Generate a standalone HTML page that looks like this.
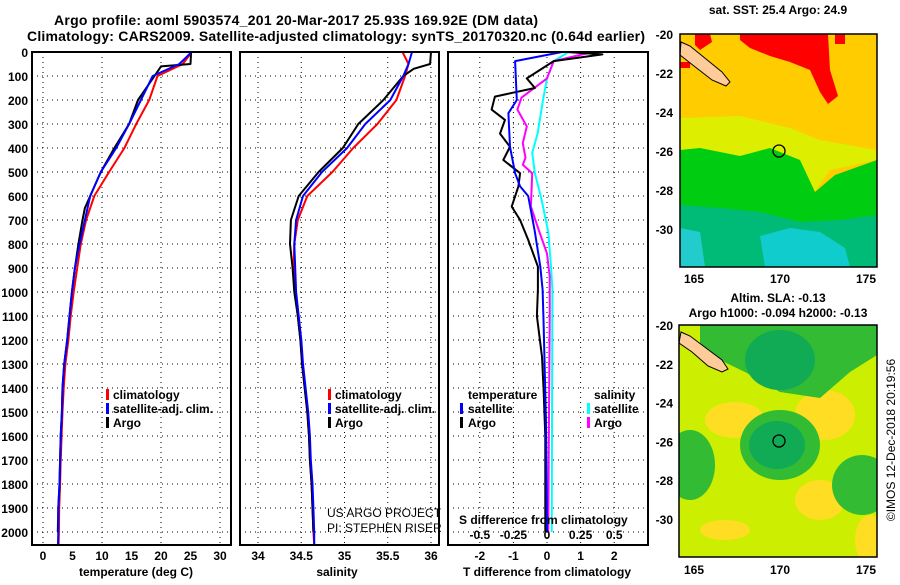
<!DOCTYPE html>
<html><head><meta charset="utf-8"><style>
body{margin:0;background:#fff;}
svg text{font-family:"Liberation Sans",sans-serif;font-weight:bold;font-size:12px;fill:#000;}
</style></head><body>
<svg id="s" width="900" height="580" viewBox="0 0 900 580" xmlns="http://www.w3.org/2000/svg">
<rect width="900" height="580" fill="#fff"/>
<text x="296" y="25" text-anchor="middle" style="font-size:14px" textLength="484">Argo profile: aoml 5903574_201 20-Mar-2017 25.93S 169.92E (DM data)</text>
<text x="336" y="41" text-anchor="middle" style="font-size:14px" textLength="618">Climatology: CARS2009. Satellite-adjusted climatology: synTS_20170320.nc (0.64d earlier)</text>
<g id="grid"></g>
<g id="lines"></g>
<g id="frames" fill="none" stroke="#000" stroke-width="2">
<rect x="32" y="52" width="199" height="493"/>
<rect x="240" y="52" width="199" height="493"/>
<rect x="448" y="52" width="200" height="493"/>
</g>
<g id="labels"></g>
<text x="136" y="576" text-anchor="middle">temperature (deg C)</text>
<text x="337" y="576" text-anchor="middle">salinity</text>
<text x="547" y="576" text-anchor="middle">T difference from climatology</text>
<text x="459" y="524">S difference from climatology</text>
<g>
<rect x="106" y="389" width="3" height="11" fill="#f00"/><text x="113" y="399">climatology</text>
<rect x="106" y="403" width="3" height="11" fill="#00f"/><text x="113" y="413">satellite-adj. clim.</text>
<rect x="106" y="417" width="3" height="11" fill="#000"/><text x="113" y="427">Argo</text>
</g>
<g>
<rect x="328" y="389" width="3" height="11" fill="#f00"/><text x="335" y="399">climatology</text>
<rect x="328" y="403" width="3" height="11" fill="#00f"/><text x="335" y="413">satellite-adj. clim.</text>
<rect x="328" y="417" width="3" height="11" fill="#000"/><text x="335" y="427">Argo</text>
</g>
<g>
<text x="468" y="399">temperature</text>
<rect x="460" y="403" width="3" height="11" fill="#00f"/><text x="468" y="413">satellite</text>
<rect x="460" y="417" width="3" height="11" fill="#000"/><text x="468" y="427">Argo</text>
<text x="594" y="399">salinity</text>
<rect x="587" y="403" width="3" height="11" fill="#0ff"/><text x="594" y="413">satellite</text>
<rect x="587" y="417" width="3" height="11" fill="#f0f"/><text x="594" y="427">Argo</text>
</g>
<text x="327" y="517" style="font-weight:normal">US ARGO PROJECT</text>
<text x="327" y="532" style="font-weight:normal">PI: STEPHEN RISER</text>

<!-- SST map -->
<text x="778" y="14" text-anchor="middle">sat. SST: 25.4 Argo: 24.9</text>
<g>
<clipPath id="c1"><rect x="680" y="34" width="197" height="233"/></clipPath>
<g clip-path="url(#c1)">
<rect x="680" y="34" width="197" height="233" fill="#ffcc00"/>
<path d="M680,118 L740,116 L790,128 L820,140 L877,150 L877,160 L830,170 L812,196 L790,180 L760,168 L720,170 L680,175 Z" fill="#ddee00"/>
<path d="M680,150 L700,148 L740,156 L770,148 L800,160 L815,192 L835,175 L877,160 L877,267 L680,267 Z" fill="#00cc11"/>
<path d="M680,205 L720,208 L760,212 L800,222 L840,220 L877,215 L877,267 L680,267 Z" fill="#00bb77"/>
<path d="M680,228 L700,232 L705,267 L680,267 Z" fill="#22cccc"/>
<path d="M760,236 L790,228 L820,232 L845,248 L850,267 L765,267 Z" fill="#11cccc"/>
<path d="M695,34 L710,34 L712,42 L700,50 L695,45 Z" fill="#f00"/>
<path d="M740,34 L828,34 L830,70 L838,96 L828,104 L820,92 L810,70 L790,62 L770,56 L750,48 L740,40 Z" fill="#f00"/>
<path d="M835,34 L845,34 L845,44 L835,44 Z" fill="#f00"/>
<path d="M680,62 L690,62 L690,68 L680,68 Z" fill="#f00"/>
<path d="M681,42 L690,46 L722,72 L730,82 L726,86 L712,80 L694,66 L680,55 Z" fill="#ffcc99" stroke="#000" stroke-width="1"/>
<circle cx="779" cy="151" r="6" fill="none" stroke="#000" stroke-width="1.3"/>
</g>
<rect x="680" y="34" width="197" height="233" fill="none" stroke="#000" stroke-width="1.5"/>
</g>
<!-- SLA map -->
<text x="778" y="302" text-anchor="middle">Altim. SLA: -0.13</text>
<text x="778" y="317" text-anchor="middle">Argo h1000: -0.094 h2000: -0.13</text>
<g>
<clipPath id="c2"><rect x="679" y="325" width="198" height="232"/></clipPath>
<g clip-path="url(#c2)">
<rect x="679" y="325" width="198" height="232" fill="#ccee00"/>
<ellipse cx="735" cy="420" rx="30" ry="18" fill="#ffdd22"/>
<ellipse cx="825" cy="415" rx="30" ry="25" fill="#ffdd22"/>
<ellipse cx="820" cy="500" rx="25" ry="20" fill="#ffdd22"/>
<ellipse cx="870" cy="540" rx="15" ry="25" fill="#ffdd22"/>
<ellipse cx="725" cy="530" rx="25" ry="10" fill="#ffdd22"/>
<path d="M700,325 L877,325 L877,355 L850,372 L820,398 L780,392 L745,372 L720,360 L700,345 Z" fill="#33bb33"/>
<ellipse cx="780" cy="360" rx="35" ry="30" fill="#11aa55"/>
<ellipse cx="780" cy="445" rx="40" ry="35" fill="#33bb33"/>
<ellipse cx="777" cy="445" rx="28" ry="24" fill="#11aa55"/>
<ellipse cx="690" cy="465" rx="25" ry="35" fill="#33bb33"/>
<ellipse cx="862" cy="485" rx="30" ry="30" fill="#33bb33" transform="rotate(-30 862 485)"/>
<path d="M681,332 L690,336 L722,360 L728,369 L722,372 L708,366 L692,352 L679,343 Z" fill="#ffcc99" stroke="#000" stroke-width="1"/>
<circle cx="779" cy="441" r="6" fill="none" stroke="#000" stroke-width="1.3"/>
</g>
<rect x="679" y="325" width="198" height="232" fill="none" stroke="#000" stroke-width="1.5"/>
</g>
<text transform="translate(895,440) rotate(-90)" text-anchor="middle" style="font-weight:normal;font-size:12px">©IMOS 12-Dec-2018 20:19:56</text>
<g id="maplabels"></g>
</svg>
<script>
// profile depths (dbar)
const depths = [0,50,100,200,300,400,500,600,700,800,900,1000,1100,1200,1300,1400,1500,1600,1700,1800,1900,2000,2050];
const tempClim = [25.2,23.7,19.4,18.0,15.8,13.8,11.2,8.7,7.3,6.4,5.8,5.2,4.7,4.3,3.8,3.5,3.3,3.15,3.0,2.9,2.75,2.7,2.65];
const tempSat  = [25.2,23.1,18.6,16.6,14.6,12.4,9.8,8.0,7.1,6.2,5.4,4.9,4.5,4.1,3.6,3.3,3.2,3.0,2.9,2.8,2.6,2.6,2.55];
const argoTempDepths = [0,50,60,100,200,300,400,500,600,650,700,800,900,1000,1100,1200,1300,1400,1500,1600,1700,1800,1900,2000];
const tempArgo = [25.1,25.0,20.0,18.9,16.1,14.6,12.1,9.8,8.0,7.1,6.7,6.0,5.4,4.9,4.5,4.1,3.6,3.3,3.2,3.0,2.9,2.8,2.6,2.5];
const salClim = [35.67,35.74,35.70,35.60,35.38,35.10,34.86,34.57,34.46,34.42,34.41,34.43,34.46,34.49,34.51,34.54,34.57,34.59,34.60,34.62,34.63,34.64,34.65];
const salSat  = [35.78,35.74,35.68,35.53,35.24,35.03,34.74,34.52,34.44,34.42,34.43,34.44,34.47,34.50,34.52,34.55,34.58,34.60,34.61,34.63,34.64,34.65,34.65];
const argoSalDepths = [0,50,70,100,200,300,400,500,600,700,800,900,1000,1100,1200,1300,1400,1500,1600,1700,1800,1900,2000];
const salArgo = [36.0,35.99,35.8,35.68,35.45,35.16,34.98,34.70,34.47,34.38,34.37,34.40,34.42,34.46,34.49,34.51,34.54,34.57,34.59,34.60,34.62,34.63,34.64];
// difference panel
const diffTDepths = [0,10,38,110,150,186,240,283,340,395,450,505,560,644,700,783,894,990,1100,1270,1408,1600,1800,2000];
const tDiffArgo = [0.59,1.65,0.2,-0.6,-0.36,-1.55,-1.65,-1.25,-1.4,-1.1,-1.3,-0.8,-0.85,-1.05,-0.8,-0.56,-0.27,-0.27,-0.3,-0.15,-0.1,-0.05,-0.05,-0.05];
const diffSatDepths = [0,38,200,255,395,505,560,600,750,894,990,1130,1540,2000];
const tDiffSat = [0.45,-0.95,-0.9,-1.15,-1.1,-0.95,-0.8,-0.56,-0.36,-0.2,-0.13,-0.1,-0.03,0];
const diffSDepths = [0,38,110,190,240,310,380,440,470,505,644,728,840,936,1100,1500,2000];
const sDiffArgo = [0.34,0.05,0,-0.19,-0.22,-0.15,-0.18,-0.16,-0.18,-0.11,-0.12,-0.07,0,0.02,0.02,0.015,0.01];
const diffSSatDepths = [0,38,110,200,340,420,505,616,750,894,990,2000];
const sDiffSat = [0.16,0.05,0,-0.03,-0.07,-0.11,-0.09,-0.04,0.01,0.03,0.04,0.035];
// tick labels
const pressureTicks = [0,100,200,300,400,500,600,700,800,900,1000,1100,1200,1300,1400,1500,1600,1700,1800,1900,2000];
const tempTicks = [0,5,10,15,20,25,30];
const salTicks = [34,34.5,35,35.5,36];
const tDiffTicks = [-2,-1,0,1,2];
const sDiffTicks = [-0.5,-0.25,0,0.25,0.5];
const latTicks = [-20,-22,-24,-26,-28,-30];
const lonTicks = [165,170,175];

const NS='http://www.w3.org/2000/svg';
const yP = p => 52 + p*0.24;
const xT = t => 43 + t*5.9;
const xS = s => 258 + (s-34)*86.5;
const xTD = d => 547 + d*33.6;
const xSD = d => 547 + d*134.4;
const yLatTop = l => 34 + (-20 - l)*19.5;
const yLatBot = l => 325 + (-20 - l)*19.4;
const xLon = l => 780 + (l-170)*17.2;

function el(tag, attrs, parent){const e=document.createElementNS(NS,tag);for(const k in attrs)e.setAttribute(k,attrs[k]);parent.appendChild(e);return e;}
const grid=document.getElementById('grid'), lines=document.getElementById('lines'), labels=document.getElementById('labels'), ml=document.getElementById('maplabels');
const dot={stroke:'#000','stroke-width':1,'stroke-dasharray':'1,4'};
[[32,231],[240,439],[448,648]].forEach(([a,b])=>{
  pressureTicks.forEach(p=>{ if(p>0){const l=el('line',Object.assign({x1:a,x2:b,y1:yP(p),y2:yP(p)},dot),grid);
  
  }});
});
[0,10,20,30].forEach(t=>{const l=el('line',Object.assign({x1:xT(t),x2:xT(t),y1:52,y2:545},dot),grid);

});
salTicks.forEach(s=>{const l=el('line',Object.assign({x1:xS(s),x2:xS(s),y1:52,y2:545},dot),grid);

});
tDiffTicks.forEach(s=>{const l=el('line',Object.assign({x1:xTD(s),x2:xTD(s),y1:52,y2:545},dot),grid);

});

function poly(xs, ps, fx, color, name, w){
  const pts = xs.map((v,i)=>fx(v).toFixed(1)+','+yP(ps[i]).toFixed(1)).join(' ');
  const e = el('polyline',{points:pts,fill:'none',stroke:color,'stroke-width':w||2,'stroke-linejoin':'round'},lines);
  
  
}
poly(tempClim, depths, xT, '#f00', 'temperature-climatology-line');
poly(tempArgo, argoTempDepths, xT, '#000', 'temperature-argo-line');
poly(tempSat, depths, xT, '#00f', 'temperature-satellite-line');
poly(salClim, depths, xS, '#f00', 'salinity-climatology-line');
poly(salArgo, argoSalDepths, xS, '#000', 'salinity-argo-line');
poly(salSat, depths, xS, '#00f', 'salinity-satellite-line');
poly(sDiffSat, diffSSatDepths, xSD, '#0ff', 'salinity-satellite-difference-line');
poly(sDiffArgo, diffSDepths, xSD, '#f0f', 'salinity-argo-difference-line');
poly(tDiffArgo, diffTDepths, xTD, '#000', 'temperature-argo-difference-line');
poly(tDiffSat, diffSatDepths, xTD, '#00f', 'temperature-satellite-difference-line');

function txt(x,y,s,anchor,parent,name){const e=el('text',{x:x,y:y,'text-anchor':anchor},parent);e.textContent=s;

return e;}
pressureTicks.forEach(p=>txt(28,yP(p)+5,String(p),'end',labels,'pressure-tick-label'));
tempTicks.forEach(t=>txt(xT(t),560,String(t),'middle',labels,'temperature-tick-label'));
salTicks.forEach(s=>txt(xS(s),560,String(s),'middle',labels,'salinity-tick-label'));
tDiffTicks.forEach(s=>txt(xTD(s),560,String(s),'middle',labels,'t-difference-tick-label'));
sDiffTicks.forEach(s=>txt(xSD(s),539,String(s),'middle',labels,'s-difference-tick-label'));
latTicks.forEach(l=>{txt(673,yLatTop(l)+5,String(l),'end',ml,'sst-lat-tick-label');
 txt(673,yLatBot(l)+5,String(l),'end',ml,'sla-lat-tick-label');});
lonTicks.forEach(l=>{txt(xLon(l),283,String(l),'middle',ml,'sst-lon-tick-label');
 txt(xLon(l),574,String(l),'middle',ml,'sla-lon-tick-label');});
</script>
</body></html>
